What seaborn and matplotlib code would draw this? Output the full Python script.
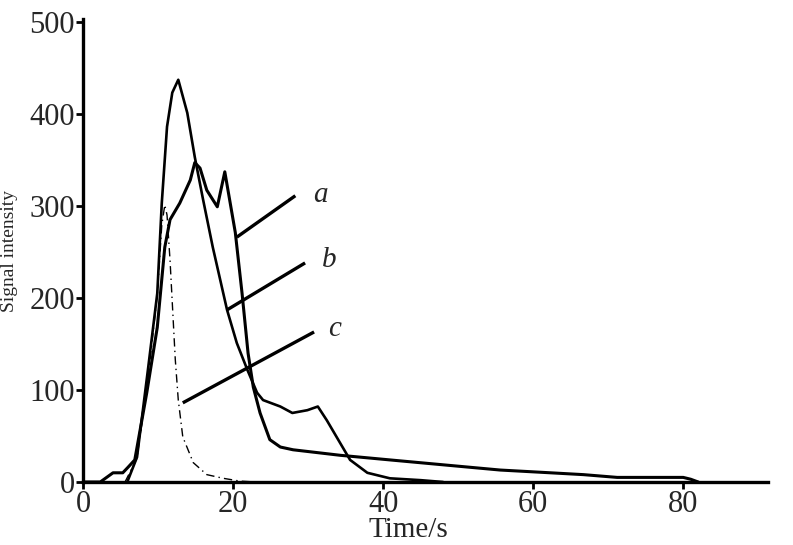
import matplotlib.pyplot as plt
import seaborn as sns

# curve a: double peak, long tail
a_time = [0, 2.3, 4.0, 5.3, 6.0, 6.9, 8.5, 9.9, 10.9, 11.6, 12.9, 14.3, 14.9, 15.6,
          16.5, 17.9, 18.9, 20.3, 21.2, 22.0, 22.7, 23.6, 24.9, 26.3, 28.0, 34.3,
          40.9, 48.9, 55.6, 62.3, 66.7, 71.2, 80.0, 81.0, 82.0]
a_signal = [0, 0, 10, 10, 16, 24, 97, 168, 255, 285, 303, 328, 347, 341,
            317, 299, 337, 271, 205, 140, 103, 75, 46, 38, 35, 29,
            24, 18, 13, 10, 8, 5, 5, 3, 0]

# curve b: tallest peak, shoulder near 31 s
b_time = [5.9, 7.2, 8.7, 9.9, 10.5, 11.2, 11.9, 12.7, 13.9, 14.9, 16.0, 17.3,
          19.2, 20.5, 21.9, 23.2, 24.0, 26.3, 27.9, 29.9, 31.3, 32.5, 34.3,
          35.6, 37.9, 40.9, 45.0, 48.0]
b_signal = [0, 27, 125, 205, 303, 386, 423, 437, 401, 353, 307, 255,
            187, 151, 122, 97, 89, 82, 75, 78, 82, 67, 42,
            24, 10, 4, 2, 0]

# curve c: narrow peak, dash-dot
c_time = [5.6, 7.2, 8.7, 9.9, 10.5, 10.9, 11.2, 11.6, 12.3, 12.7, 13.3, 14.7,
          16.5, 18.7, 20.9, 23.0]
c_signal = [0, 26, 116, 203, 279, 301, 290, 241, 133, 89, 49, 21,
            8, 4, 1, 0]

labels = ['a', 'b', 'c']
leader_start = [(20.5, 266), (19.2, 187), (13.3, 86)]
leader_end = [(28.3, 311), (29.6, 238), (30.8, 163)]
label_pos = [(30.7, 312), (31.9, 241), (32.7, 166)]

sns.set_style('ticks')
plt.rcParams['font.family'] = ['Liberation Serif', 'DejaVu Serif']

fig = plt.figure(figsize=(7.93, 5.45), dpi=100)
ax = fig.add_axes([83 / 793, 1 - 482 / 545, (768 - 83) / 793, (482 - 19) / 545])

sns.lineplot(x=a_time, y=a_signal, ax=ax, color='black', lw=2.2,
             sort=False, estimator=None)
sns.lineplot(x=b_time, y=b_signal, ax=ax, color='black', lw=1.9,
             sort=False, estimator=None)
sns.lineplot(x=c_time, y=c_signal, ax=ax, color='black', lw=1.0,
             sort=False, estimator=None, linestyle=(0, (6, 3, 1, 3)))

for lab, p0, p1, pt in zip(labels, leader_start, leader_end, label_pos):
    ax.plot([p0[0], p1[0]], [p0[1], p1[1]], color='black', lw=2.4,
            solid_capstyle='butt')
    ax.text(pt[0], pt[1], lab, fontsize=21, style='italic',
            ha='left', va='center')

ax.set_xlim(0, 91.3)
ax.set_ylim(0, 503)
ax.set_xticks([0, 20, 40, 60, 80])
ax.set_yticks([0, 100, 200, 300, 400, 500])
ax.tick_params(labelsize=22, width=2, length=5, pad=1, color='black')

for side in ['top', 'right']:
    ax.spines[side].set_visible(False)
for side in ['left', 'bottom']:
    ax.spines[side].set_linewidth(2.4)
    ax.spines[side].set_color('black')

# axis titles squeezed to the edges, as in the scan
fig.text(0.012, 0.54, 'Signal intensity', rotation=90, fontsize=14,
         ha='center', va='center')
fig.text(408 / 793, 0.004, 'Time/s', fontsize=21,
         ha='center', va='bottom')

fig.savefig('out.png', dpi=100, facecolor='white')
